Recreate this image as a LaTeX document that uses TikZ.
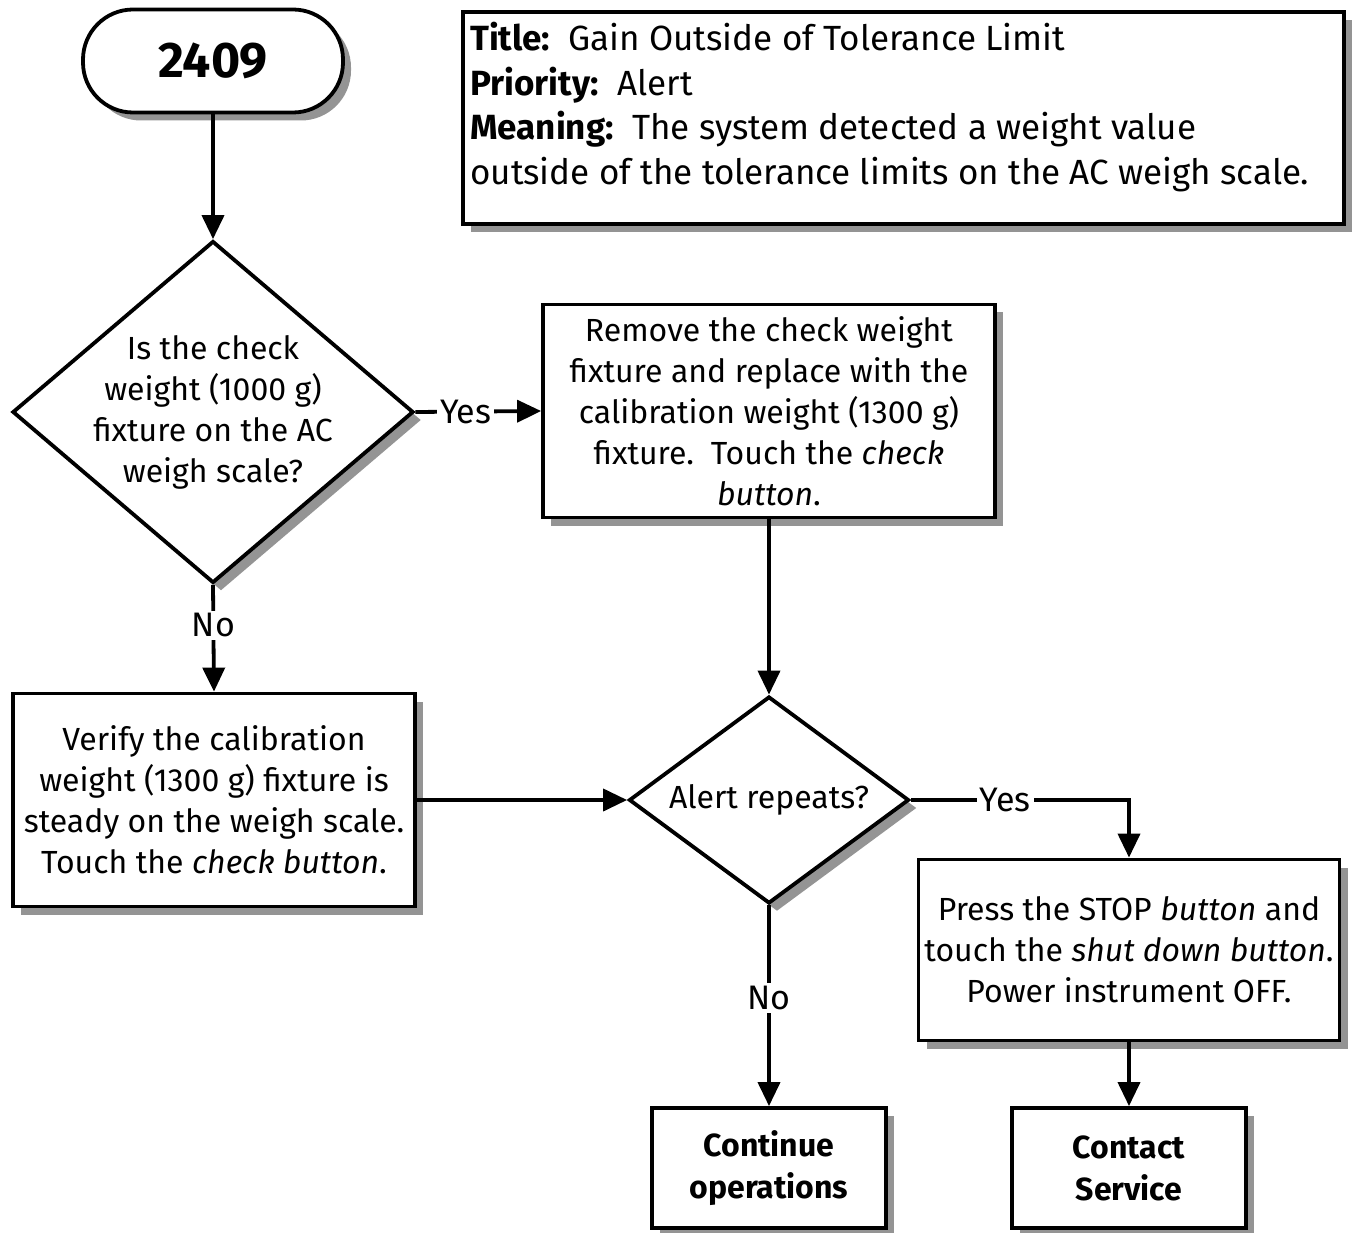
\documentclass[tikz,border=0pt]{standalone}
\usepackage{fontspec}
\setmainfont{Fira Sans}
\usetikzlibrary{shapes.geometric,arrows.meta,shadows}
\begin{document}
\begin{tikzpicture}[x=1pt,y=-1pt,
  shade/.style={drop shadow={shadow xshift=8pt,shadow yshift=-8pt,fill=black!42,opacity=1}},
  body/.style={font=\fontsize{32}{41}\selectfont},
  box/.style={draw,line width=3.8pt,fill=white,shade,align=center,inner sep=0pt,body},
  term/.style={box,rounded corners=50pt},
  decision/.style={draw,line width=3.8pt,fill=white,shade,shape=diamond,inner sep=0pt},
  dtext/.style={align=center,inner sep=0pt,body},
  arr/.style={line width=3.8pt,-{Triangle[length=24pt,width=22pt]}},
  lbl/.style={fill=white,inner sep=3pt,font=\fontsize{34}{40}\selectfont}
]
\useasboundingbox (0,0) rectangle (1352,1233);

% start terminal
\node[term,minimum width=260pt,minimum height=103pt,font=\fontsize{50}{56}\selectfont\bfseries] (start) at (213,61) {2409};

% information panel: frame, then its text block
\node[box,minimum width=881pt,minimum height=212pt,anchor=north west] (info) at (461,10) {};
\node[anchor=north west,align=left,inner sep=0pt,font=\fontsize{35}{44.5}\selectfont] (infotext) at (470,22)
  {\textbf{Title:}\ \ Gain Outside of Tolerance Limit\\
   \textbf{Priority:}\ \ Alert\\
   \textbf{Meaning:}\ \ The system detected a weight value\\
   outside of the tolerance limits on the AC weigh scale.};

% decisions (outline, then wording on top)
\node[decision,minimum width=401pt,minimum height=342pt] (q1) at (213,412) {};
\node[dtext] (q1text) at (q1.center) {Is the check\\weight (1000 g)\\fixture on the AC\\weigh scale?};
\node[decision,minimum width=280pt,minimum height=207pt] (q2) at (769,800) {};
\node[dtext] (q2text) at (q2.center) {Alert repeats?};

% actions
\node[box,minimum width=452pt,minimum height=213pt] (swap) at (769,411)
  {Remove the check weight\\fixture and replace with the\\calibration weight (1300 g)\\fixture.\ \ Touch the \textit{check}\\\textit{button}.};
\node[box,minimum width=402pt,minimum height=213pt] (verify) at (214,800)
  {Verify the calibration\\weight (1300 g) fixture is\\steady on the weigh scale.\\Touch the \textit{check button}.};
\node[box,minimum width=421pt,minimum height=181pt] (stop) at (1129,950)
  {Press the STOP \textit{button} and\\touch the \textit{shut down button}.\\Power instrument OFF.};
\node[box,minimum width=234pt,minimum height=120pt,font=\fontsize{32}{42}\selectfont\bfseries] (cont) at (769,1168)
  {Continue\\operations};
\node[box,minimum width=234pt,minimum height=120pt,font=\fontsize{32}{42}\selectfont\bfseries] (svc) at (1129,1168)
  {Contact\\Service};

% connectors
\draw[arr] (start) -- (q1.north);
\draw[arr] (q1.east) -- node[lbl,pos=0.4]{Yes} (swap.west);
\draw[arr] (q1.south) -- node[lbl,pos=0.38]{No} (verify.north);
\draw[arr] (swap.south) -- (q2.north);
\draw[arr] (verify.east) -- (q2.west);
\draw[arr] (q2.east) -| node[lbl,pos=0.216]{Yes} (stop.north);
\draw[arr] (q2.south) -- node[lbl,pos=0.46]{No} (cont.north);
\draw[arr] (stop.south) -- (svc.north);
\end{tikzpicture}
\end{document}
